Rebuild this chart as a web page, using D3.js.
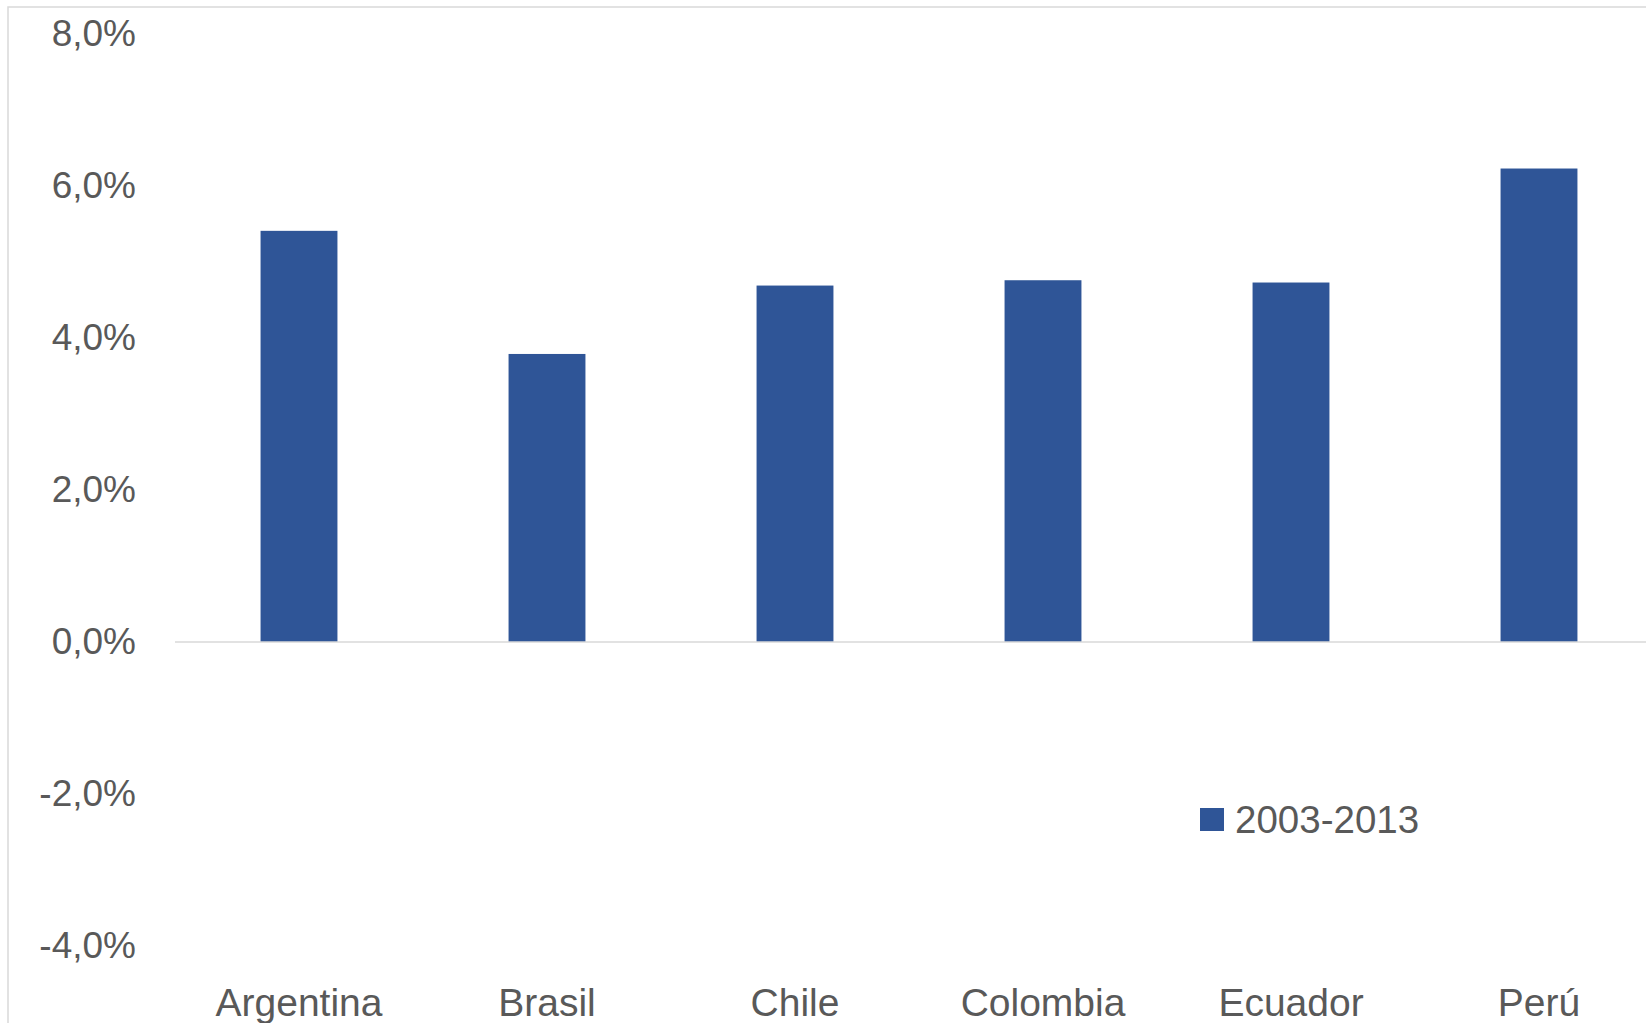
<!DOCTYPE html>
<html>
<head>
<meta charset="utf-8">
<script src="https://cdn.jsdelivr.net/npm/d3@7"></script>
<style>
html,body{margin:0;padding:0;background:#fff;overflow:hidden;}
svg{display:block;}
</style>
</head>
<body>
<svg id="chart" width="1646" height="1023"></svg>
<script>
const categories = ["Argentina", "Brasil", "Chile", "Colombia", "Ecuador", "Perú"];
const seriesName = "2003-2013";
const values = [5.41, 3.79, 4.69, 4.76, 4.73, 6.23];
const yTicks = [-4, -2, 0, 2, 4, 6, 8];

const svg = d3.select("#chart");
const font = "'Liberation Sans', Arial, sans-serif";
const textColor = "#595959";
const barColor = "#2F5597";

// outer chart border (cut off on right and bottom)
svg.append("rect")
  .attr("x", 8).attr("y", 7)
  .attr("width", 1700).attr("height", 1100)
  .attr("fill", "none").attr("stroke", "#d9d9d9").attr("stroke-width", 1.5);

const x = d3.scaleBand()
  .domain(categories)
  .range([175, 1663])
  .paddingInner(0.69)
  .paddingOuter(0.345);

const y = d3.scaleLinear().domain([-4, 8]).range([946, 34]);

// bars
svg.append("g").selectAll("rect")
  .data(categories)
  .join("rect")
  .attr("x", d => x(d))
  .attr("width", x.bandwidth())
  .attr("y", (d, i) => y(Math.max(0, values[i])))
  .attr("height", (d, i) => Math.abs(y(values[i]) - y(0)))
  .attr("fill", barColor);

// zero line
svg.append("line")
  .attr("x1", 175).attr("x2", 1646)
  .attr("y1", y(0)).attr("y2", y(0))
  .attr("stroke", "#d9d9d9").attr("stroke-width", 1.5);

// y axis
const yAxis = d3.axisLeft(y)
  .tickValues(yTicks)
  .tickSize(0)
  .tickPadding(39)
  .tickFormat(d => d.toFixed(1).replace(".", ",") + "%");
const gy = svg.append("g").attr("transform", "translate(175,0)").call(yAxis);
gy.select(".domain").remove();
gy.selectAll("text")
  .attr("font-family", font).attr("font-size", 37).attr("fill", textColor);

// x axis labels
const xAxis = d3.axisBottom(x).tickSize(0).tickPadding(0);
const gx = svg.append("g").attr("transform", "translate(0,987)").call(xAxis);
gx.select(".domain").remove();
gx.selectAll("text")
  .attr("dy", "0.75em")
  .attr("font-family", font).attr("font-size", 39).attr("fill", textColor);

// legend
const lg = svg.append("g").attr("transform", "translate(1200,808)");
lg.append("rect").attr("width", 24).attr("height", 23).attr("fill", barColor);
lg.append("text")
  .attr("x", 35).attr("y", 12).attr("dy", "0.35em")
  .attr("font-family", font).attr("font-size", 38.5).attr("fill", textColor)
  .text(seriesName);
</script>
</body>
</html>
